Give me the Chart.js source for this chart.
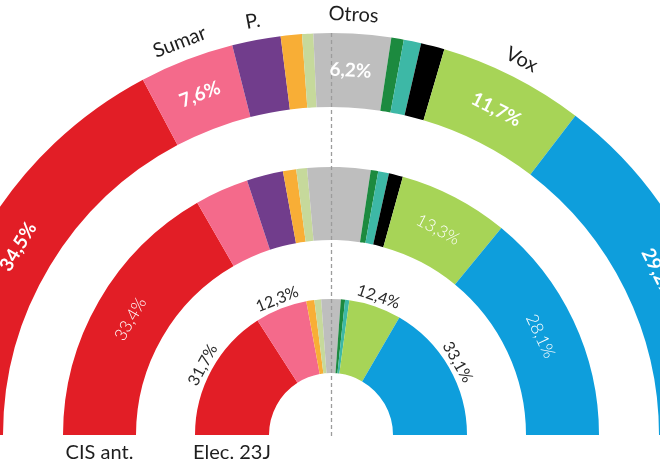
<!DOCTYPE html>
<html><head><meta charset="utf-8">
<script src="https://cdn.jsdelivr.net/npm/chart.js@4"></script>
<style>html,body{margin:0;padding:0;background:#fff;overflow:hidden}canvas{display:block}</style>
</head><body>
<canvas id="c" width="660" height="470"></canvas>
<script>
// ---- data ----
const parties = ['PSOE', 'Sumar', 'Podemos', 'ERC', 'BNG', 'Otros', 'EH Bildu', 'PNV', 'Junts', 'Vox', 'PP'];
const partyColors = ['#E21E26', '#F46A8B', '#713D8C', '#F8AE36', '#C6D99B', '#BEBEBE', '#1C8A3F', '#3DB8A6', '#000000', '#A7D457', '#0E9EDC'];
const partyTags = ['', 'Sumar', 'P.', '', '', 'Otros', '', '', '', 'Vox', ''];
const cisNuevo = [34.5, 7.6, 3.9, 1.7, 0.9, 6.2, 1.0, 1.4, 1.9, 11.7, 29.2];
const cisAnterior = [33.4, 6.5, 4.4, 1.6, 1.3, 7.6, 0.9, 1.3, 1.7, 13.3, 28.1];
const elecciones23J = [31.7, 12.3, 0, 1.9, 1.6, 4.6, 1.0, 1.0, 0, 12.4, 33.1];
const ringNames = ['CIS', 'CIS ant.', 'Elec. 23J'];
const shownOuter = [0, 1, 5, 9, 10];
const shownMiddle = [0, 9, 10];
const shownInner = [0, 1, 9, 10];

const fmt = v => v.toFixed(1).replace('.', ',') + '%';

function drawArcText(ctx, arc, r, text, font, color) {
  const p = arc.getProps(['x', 'y', 'startAngle', 'endAngle'], true);
  const mid = (p.startAngle + p.endAngle) / 2;
  ctx.save();
  ctx.translate(p.x + r * Math.cos(mid), p.y + r * Math.sin(mid));
  ctx.rotate(mid + Math.PI / 2);
  ctx.font = font;
  ctx.fillStyle = color;
  ctx.textAlign = 'center';
  ctx.textBaseline = 'middle';
  ctx.fillText(text, 0, 0);
  ctx.restore();
}

const ringLabels = {
  id: 'ringLabels',
  afterDatasetsDraw(chart) {
    const ctx = chart.ctx;
    const outer = chart.getDatasetMeta(0).data;
    const middle = chart.getDatasetMeta(2).data;
    const inner = chart.getDatasetMeta(4).data;
    const a0 = outer[0].getProps(['x', 'y', 'innerRadius', 'outerRadius'], true);
    const m0 = middle[0].getProps(['innerRadius', 'outerRadius'], true);
    const i0 = inner[0].getProps(['innerRadius', 'outerRadius'], true);
    // dashed centre line
    ctx.save();
    ctx.strokeStyle = '#9c9c9c';
    ctx.lineWidth = 1.3;
    ctx.setLineDash([4, 3]);
    ctx.beginPath();
    ctx.moveTo(Math.round(a0.x) + 0.5, a0.y - a0.outerRadius);
    ctx.lineTo(Math.round(a0.x) + 0.5, a0.y + 2);
    ctx.stroke();
    ctx.restore();
    // party names above outer ring
    partyTags.forEach((t, i) => {
      if (t) drawArcText(ctx, outer[i], a0.outerRadius + 19, t, '400 20px Lato', '#1e1e1e');
    });
    // outer ring values
    const rO = (a0.innerRadius + a0.outerRadius) / 2;
    shownOuter.forEach(i => drawArcText(ctx, outer[i], rO, fmt(cisNuevo[i]), '700 19px Lato', '#ffffff'));
    // middle ring values
    const rM = (m0.innerRadius + m0.outerRadius) / 2;
    shownMiddle.forEach(i => drawArcText(ctx, middle[i], rM, fmt(cisAnterior[i]), '300 17px Lato', '#ffffff'));
    // inner ring values (outside)
    shownInner.forEach(i => drawArcText(ctx, inner[i], i0.outerRadius + 10, fmt(elecciones23J[i]), '400 16px Lato', '#2a2a2a'));
    // ring names under the rings
    ctx.save();
    ctx.font = '400 20px Lato';
    ctx.fillStyle = '#1e1e1e';
    ctx.textAlign = 'center';
    ctx.textBaseline = 'middle';
    ctx.fillText(ringNames[1], a0.x - rM, a0.y + 18);
    ctx.fillText(ringNames[2], a0.x - (i0.innerRadius + i0.outerRadius) / 2, a0.y + 18);
    ctx.restore();
  }
};

const spacer = w => ({ data: [1], backgroundColor: 'rgba(0,0,0,0)', weight: w });

new Chart(document.getElementById('c'), {
  type: 'doughnut',
  data: {
    labels: parties,
    datasets: [
      { label: ringNames[0], data: cisNuevo, backgroundColor: partyColors, weight: 74 },
      spacer(60),
      { label: ringNames[1], data: cisAnterior, backgroundColor: partyColors, weight: 73 },
      spacer(59),
      { label: ringNames[2], data: elecciones23J, backgroundColor: partyColors, weight: 74 }
    ]
  },
  options: {
    responsive: false,
    animation: false,
    events: [],
    rotation: -90,
    circumference: 180,
    radius: 402,
    cutout: '15.4229%',
    borderWidth: 0,
    layout: { padding: { top: 0, bottom: 2, left: 2, right: 0 } },
    plugins: { legend: { display: false }, tooltip: { enabled: false } }
  },
  plugins: [ringLabels]
});
</script>
</body></html>
